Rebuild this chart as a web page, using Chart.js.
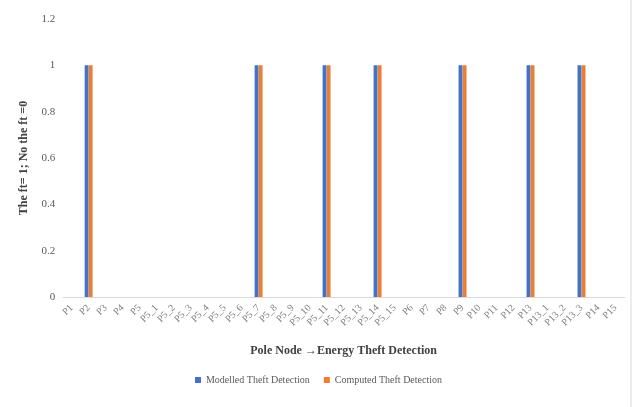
<!DOCTYPE html>
<html lang="en">
<head>
  <meta charset="UTF-8" />
  <title>Pole Node Energy Theft Detection</title>
  <style>
    body { margin: 0; padding: 0; background: #fff; }
    .chart-container {
      width: 632px; height: 407px; position: relative;
      box-sizing: border-box; border-right: 2px solid #ececec;
    }
  </style>
</head>
<body>
  <div class="chart-container">
    <canvas id="theftChart"></canvas>
  </div>

  <script src="https://cdn.jsdelivr.net/npm/chart.js"></script>
  <script>
    // --- Data ---
    const poleNodes = [
      'P1', 'P2', 'P3', 'P4', 'P5',
      'P5_1', 'P5_2', 'P5_3', 'P5_4', 'P5_5', 'P5_6', 'P5_7', 'P5_8', 'P5_9', 'P5_10',
      'P5_11', 'P5_12', 'P5_13', 'P5_14', 'P5_15',
      'P6', 'P7', 'P8', 'P9', 'P10', 'P11', 'P12', 'P13',
      'P13_1', 'P13_2', 'P13_3', 'P14', 'P15'
    ];
    const modelledTheft = [0,1,0,0,0, 0,0,0,0,0,0,1,0,0,0, 1,0,0,1,0, 0,0,0,1,0,0,0,1, 0,0,1,0,0];
    const computedTheft = [0,1,0,0,0, 0,0,0,0,0,0,1,0,0,0, 1,0,0,1,0, 0,0,0,1,0,0,0,1, 0,0,1,0,0];
    const yTicks = [0, 0.2, 0.4, 0.6, 0.8, 1, 1.2];

    const serif = "'Liberation Serif', 'DejaVu Serif', serif";

    const ctx = document.getElementById('theftChart').getContext('2d');
    const theftChart = new Chart(ctx, {
      type: 'bar',
      data: {
        labels: poleNodes,
        datasets: [
          {
            label: 'Modelled Theft Detection',
            data: modelledTheft,
            backgroundColor: '#4472c4',
            categoryPercentage: 0.48,
            barPercentage: 0.95
          },
          {
            label: 'Computed Theft Detection',
            data: computedTheft,
            backgroundColor: '#ed7d31',
            categoryPercentage: 0.48,
            barPercentage: 0.95
          }
        ]
      },
      options: {
        animation: false,
        responsive: true,
        maintainAspectRatio: false,
        layout: { padding: { left: 13, right: 6, top: 19, bottom: 12 } },
        scales: {
          x: {
            grid: { display: false, drawTicks: false },
            border: { color: '#d9d9d9', width: 1 },
            ticks: {
              minRotation: 45, maxRotation: 45, autoSkip: false,
              color: '#7f7f7f', padding: 5,
              font: { family: serif, size: 10 }
            },
            title: {
              display: true, text: 'Pole Node \u2192Energy Theft Detection',
              color: '#404040', padding: { top: 10, bottom: 3 },
              font: { family: serif, size: 12, weight: 'bold' }
            }
          },
          y: {
            min: 0, max: 1.2,
            afterBuildTicks: (axis) => { axis.ticks = yTicks.map(v => ({ value: v })); },
            grid: { display: false, drawTicks: false },
            border: { display: false },
            ticks: {
              color: '#595959', padding: 8,
              font: { family: serif, size: 11 },
              callback: (v) => String(v)
            },
            title: {
              display: true, text: 'The ft= 1; No the ft =0',
              color: '#404040', padding: { bottom: 2 },
              font: { family: serif, size: 12, weight: 'bold' }
            }
          }
        },
        plugins: {
          legend: {
            position: 'bottom',
            labels: {
              usePointStyle: true, pointStyle: 'rect', boxWidth: 6, boxHeight: 6,
              color: '#595959', padding: 14,
              font: { family: serif, size: 10 }
            }
          },
          tooltip: { enabled: false }
        }
      }
    });
  </script>
</body>
</html>
